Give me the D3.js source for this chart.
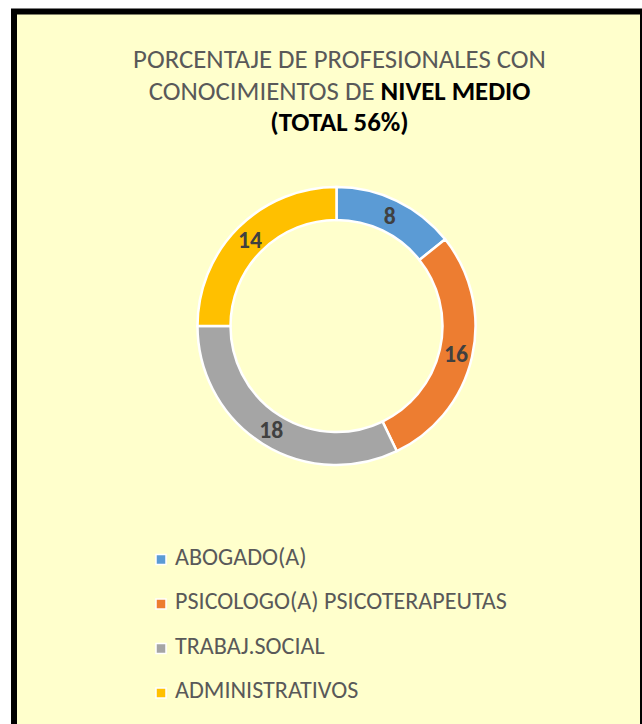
<!DOCTYPE html>
<html>
<head>
<meta charset="utf-8">
<script src="https://cdn.jsdelivr.net/npm/d3@7"></script>
<style>
  html, body { margin: 0; padding: 0; background: #ffffff; }
  svg { display: block; font-family: Carlito, Calibri, "Open Sans", sans-serif; }
</style>
</head>
<body>
<svg id="chart" width="642" height="724"></svg>
<script>
// data
var categories = ["ABOGADO(A)", "PSICOLOGO(A) PSICOTERAPEUTAS", "TRABAJ.SOCIAL", "ADMINISTRATIVOS"];
var values = [8, 16, 18, 14];
var colors = ["#5B9BD5", "#ED7D31", "#A5A5A5", "#FFC000"];

var titleLines = [
    [{t: "PORCENTAJE DE PROFESIONALES CON", b: false}],
    [{t: "CONOCIMIENTOS DE ", b: false}, {t: "NIVEL MEDIO", b: true}],
    [{t: "(TOTAL 56%)", b: true}]
];

var width = 642, height = 724;
var svg = d3.select("#chart");

// scale a text selection's font so its first node spans the wanted width
function fitWidth(sel, node, base, wanted) {
    sel.attr("font-size", base);
    var w = node.getComputedTextLength();
    sel.attr("font-size", base * wanted / w);
}

// framed yellow panel (bottom edge runs off the picture)
svg.append("rect")
    .attr("x", 14).attr("y", 11.5)
    .attr("width", 629).attr("height", 800)
    .attr("fill", "#FFFFCC")
    .attr("stroke", "#000").attr("stroke-width", 6);

// title
var title = svg.append("text")
    .attr("text-anchor", "middle");

var firstLine;
titleLines.forEach(function (line, i) {
    var tl = title.append("tspan")
        .attr("x", 339.5)
        .attr("y", 68 + i * 31.7);
    if (i === 0) firstLine = tl;
    line.forEach(function (part) {
        tl.append("tspan")
            .attr("fill", part.b ? "#000" : "#595959")
            .attr("font-weight", part.b ? "bold" : "normal")
            .text(part.t);
    });
});
fitWidth(title, firstLine.node(), 22, 413);

// donut
var cx = 336.5, cy = 326,
    outerR = 139, innerR = 106;

var pie = d3.pie().sort(null).value(function (d) { return d; });
var arc = d3.arc().innerRadius(innerR).outerRadius(outerR);
var arcs = pie(values);

var g = svg.append("g").attr("transform", "translate(" + cx + "," + cy + ")");

g.selectAll("path.slice")
    .data(arcs)
    .enter().append("path")
    .attr("class", "slice")
    .attr("d", arc)
    .attr("fill", function (d, i) { return colors[i]; })
    .attr("stroke", "#fff")
    .attr("stroke-width", 2.5);

var lbl = g.selectAll("text.lbl")
    .data(arcs)
    .enter().append("text")
    .attr("class", "lbl")
    .attr("transform", function (d) { return "translate(" + arc.centroid(d) + ")"; })
    .attr("text-anchor", "middle")
    .attr("dy", "0.36em")
    .attr("font-weight", "bold")
    .attr("fill", "#404040")
    .text(function (d) { return d.data; });
// "18" is about 24px wide in the reference
fitWidth(lbl, lbl.nodes()[2], 20, 24);

// legend
var legend = svg.append("g");
var item = legend.selectAll("g.item")
    .data(categories)
    .enter().append("g")
    .attr("class", "item")
    .attr("transform", function (d, i) { return "translate(0," + (564.5 + i * 44.5) + ")"; });

item.append("rect")
    .attr("x", 156).attr("y", -10)
    .attr("width", 10).attr("height", 10)
    .attr("fill", function (d, i) { return colors[i]; })
    .attr("stroke", "#fff").attr("stroke-width", 1.5);

var legText = item.append("text")
    .attr("x", 175)
    .attr("fill", "#595959")
    .text(function (d) { return d; });
fitWidth(legText, legText.nodes()[1], 17, 332);
</script>
</body>
</html>
